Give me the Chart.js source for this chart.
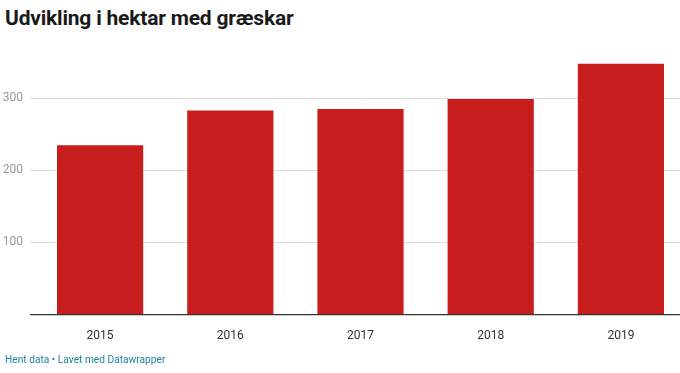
<!DOCTYPE html>
<html>
<head>
<meta charset="utf-8">
<script src="https://cdn.jsdelivr.net/npm/chart.js"></script>
<style>
  html, body { margin: 0; padding: 0; background: #fff; overflow: hidden; width: 680px; height: 373px; }
  #title { position: absolute; left: 5px; top: 6px; font: 700 21px Roboto, sans-serif; color: #1a1a1a; letter-spacing: -0.2px; }
  #footer { position: absolute; left: 5px; top: 354px; font: 400 10.2px Roboto, sans-serif; color: #1d81a2; }
  #wrap { position: absolute; left: 0; top: 0; width: 686px; height: 373px; }
</style>
</head>
<body>
<div id="title">Udvikling i hektar med græskar</div>
<div id="wrap"><canvas id="chart"></canvas></div>
<div id="footer">Hent data • Lavet med Datawrapper</div>
<script>
// data
const years = ['2015', '2016', '2017', '2018', '2019'];
const hectares = [235, 283, 285, 299, 348];
const yTicks = [100, 200, 300];

const ctx = document.getElementById('chart').getContext('2d');
new Chart(ctx, {
    type: 'bar',
    data: {
        labels: years,
        datasets: [{
            label: 'Hektar',
            data: hectares,
            backgroundColor: '#c71e1d',
            borderWidth: 0,
            barPercentage: 0.662,
            categoryPercentage: 1
        }]
    },
    options: {
        responsive: true,
        maintainAspectRatio: false,
        animation: false,
        layout: { padding: { top: 55, bottom: 24, left: 0, right: 0 } },
        plugins: {
            legend: { display: false },
            tooltip: { enabled: false }
        },
        scales: {
            x: {
                grid: { display: false },
                border: { display: false },
                ticks: { color: '#333', font: { family: 'Roboto', size: 12 }, padding: 6 }
            },
            y: {
                min: 0,
                max: 360,
                afterBuildTicks: axis => {
                    axis.ticks = [0].concat(yTicks).map(v => ({ value: v }));
                },
                afterFit: axis => { axis.width = 35; },
                border: { display: false },
                grid: {
                    color: c => c.tick.value === 0 ? '#333' : '#dedede',
                    lineWidth: c => c.tick.value === 0 ? 1.2 : 1,
                    drawTicks: true,
                    tickLength: 5
                },
                ticks: {
                    color: '#999',
                    font: { family: 'Roboto', size: 12 },
                    padding: 7,
                    callback: v => v === 0 ? '' : v
                }
            }
        }
    }
});
</script>
</body>
</html>
